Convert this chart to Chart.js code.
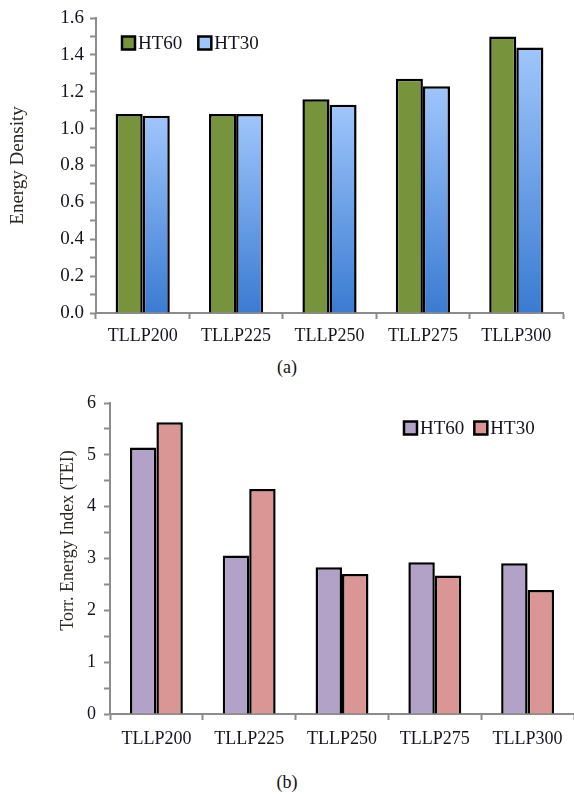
<!DOCTYPE html>
<html>
<head>
<meta charset="utf-8">
<script src="https://cdn.jsdelivr.net/npm/chart.js@4.4.0/dist/chart.umd.min.js"></script>
<style>
  body { margin: 0; background: #fff; width: 574px; height: 797px; position: relative; overflow: hidden; }
  .box { position: absolute; left: 0; width: 574px; }
  .cap { position: absolute; left: 0; width: 574px; text-align: center; font: 18px "Liberation Serif", serif; color: #111; }
</style>
</head>
<body>
<div class="box" style="top:0;height:345px"><canvas id="chartA" width="574" height="345"></canvas></div>
<div class="cap" style="top:357px">(a)</div>
<div class="box" style="top:390px;height:364px"><canvas id="chartB" width="574" height="364"></canvas></div>
<div class="cap" style="top:772px">(b)</div>
<script>
// categories shared by both panels
var categories = ['TLLP200', 'TLLP225', 'TLLP250', 'TLLP275', 'TLLP300'];
var seriesNames = ['HT60', 'HT30'];

// (a) Energy Density
var densityHT60 = [1.08, 1.08, 1.16, 1.27, 1.50];
var densityHT30 = [1.07, 1.08, 1.13, 1.23, 1.44];
var densityTicks = [0.0, 0.2, 0.4, 0.6, 0.8, 1.0, 1.2, 1.4, 1.6];

// (b) Torr. Energy Index
var teiHT60 = [5.14, 3.06, 2.83, 2.93, 2.91];
var teiHT30 = [5.63, 4.34, 2.70, 2.67, 2.39];
var teiTicks = [0, 1, 2, 3, 4, 5, 6];

var serif = 'Liberation Serif';
var txt = '#141420';
var axisGray = '#8c8c8c';

// per-bar vertical gradient for the blue series
function blueFill(c) {
  var chart = c.chart;
  if (!chart.chartArea || c.type !== 'data' || !chart.scales.y) return '#8fb8f2';
  var y = chart.scales.y;
  var top = y.getPixelForValue(c.raw);
  var bottom = y.getPixelForValue(0);
  var g = chart.ctx.createLinearGradient(0, top, 0, bottom);
  g.addColorStop(0, '#9fc6fb');
  g.addColorStop(1, '#3a7bd2');
  return g;
}

// small legend drawn inside the plot, in one row
var boxLegend = {
  id: 'boxLegend',
  afterDraw: function (chart, args, o) {
    var c = chart.ctx;
    c.save();
    c.font = o.size + 'px "' + serif + '"';
    c.textBaseline = 'middle';
    var x = o.x;
    chart.data.datasets.forEach(function (ds, i) {
      var st = chart.getDatasetMeta(i).controller.getStyle(0);
      c.fillStyle = st.backgroundColor;
      c.fillRect(x, o.y - o.box / 2, o.box, o.box);
      c.lineWidth = 2.5;
      c.strokeStyle = '#000';
      c.strokeRect(x, o.y - o.box / 2, o.box, o.box);
      c.fillStyle = txt;
      c.fillText(ds.label, x + o.box + 3, o.y + 1);
      x += o.box + 3 + c.measureText(ds.label).width + o.spacing;
    });
    c.restore();
  }
};

function makeOptions(cfg) {
  return {
    responsive: false,
    animation: false,
    layout: { autoPadding: false, padding: { left: 0, right: cfg.padRight, top: cfg.padTop, bottom: 0 } },
    plugins: {
      legend: { display: false },
      boxLegend: { x: cfg.legendX, y: cfg.legendY, box: 13, size: 19, spacing: cfg.legendGap },
      tooltip: { enabled: false }
    },
    scales: {
      x: {
        grid: { display: true, drawOnChartArea: false, drawTicks: true, tickLength: 6, tickColor: axisGray, tickWidth: 2 },
        border: { display: true, color: axisGray, width: 2 },
        ticks: { font: { family: serif, size: 18 }, color: txt, padding: cfg.xPad, maxRotation: 0 },
        afterFit: function (s) { s.height = cfg.xHeight; s.paddingLeft = 0; s.paddingRight = 0; }
      },
      y: {
        min: 0,
        max: cfg.max,
        grid: { display: true, drawOnChartArea: false, drawTicks: true, tickLength: 6, tickColor: axisGray, tickWidth: 2 },
        border: { display: true, color: axisGray, width: 2 },
        ticks: {
          stepSize: cfg.minorStep,
          autoSkip: false,
          font: { family: serif, size: cfg.yFont },
          color: txt,
          padding: cfg.yPad,
          callback: function (v) {
            var hit = cfg.labels.find(function (t) { return Math.abs(t - v) < 1e-6; });
            return hit === undefined ? '' : hit.toFixed(cfg.decimals);
          }
        },
        title: {
          display: true,
          text: cfg.title,
          font: { family: serif, size: cfg.titleFont },
          color: '#2b2620',
          padding: { top: cfg.titlePad, bottom: 0 }
        },
        afterFit: function (s) { s.width = cfg.yWidth; s.paddingTop = 0; s.paddingBottom = 0; }
      }
    }
  };
}

new Chart(document.getElementById('chartA'), {
  type: 'bar',
  data: {
    labels: categories,
    datasets: [
      { label: seriesNames[0], data: densityHT60, backgroundColor: '#77933c', borderColor: '#000', borderWidth: 2.5, barPercentage: 1, categoryPercentage: 0.58 },
      { label: seriesNames[1], data: densityHT30, backgroundColor: blueFill, borderColor: '#000', borderWidth: 2.5, barPercentage: 1, categoryPercentage: 0.58 }
    ]
  },
  options: makeOptions({
    padRight: 11, padTop: 18, xHeight: 32, xPad: 6, yWidth: 96, yPad: 6, yFont: 19,
    max: 1.6, minorStep: 0.1, labels: densityTicks, decimals: 1,
    title: 'Energy Density', titlePad: 7, titleFont: 19,
    legendX: 122, legendY: 43, legendGap: 16
  }),
  plugins: [boxLegend]
});

new Chart(document.getElementById('chartB'), {
  type: 'bar',
  data: {
    labels: categories,
    datasets: [
      { label: seriesNames[0], data: teiHT60, backgroundColor: '#b3a2c7', borderColor: '#000', borderWidth: 2.5, barPercentage: 1, categoryPercentage: 0.57 },
      { label: seriesNames[1], data: teiHT30, backgroundColor: '#d99694', borderColor: '#000', borderWidth: 2.5, barPercentage: 1, categoryPercentage: 0.57 }
    ]
  },
  options: makeOptions({
    padRight: 0, padTop: 13, xHeight: 40, xPad: 8, yWidth: 110, yPad: 8, yFont: 18,
    max: 6, minorStep: 0.5, labels: teiTicks, decimals: 0,
    title: '        Torr. Energy Index (TEI)', titlePad: 57, titleFont: 18,
    legendX: 404, legendY: 38, legendGap: 10
  }),
  plugins: [boxLegend]
});
</script>
</body>
</html>
